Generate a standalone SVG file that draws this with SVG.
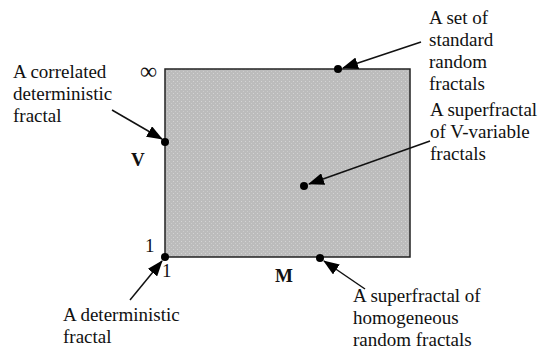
<svg xmlns="http://www.w3.org/2000/svg" width="555" height="352" viewBox="0 0 555 352">
<style>
text{font-family:'Liberation Serif','DejaVu Serif',serif;font-size:19px;fill:#111}
.b{font-weight:bold}
.inf{font-size:24px}
.c{stroke:#111;stroke-width:1.5;fill:none;marker-end:url(#ah)}
.d{fill:#000}
</style>
<defs>
<pattern id="dots" width="4" height="4" patternUnits="userSpaceOnUse">
<rect width="4" height="4" fill="#bcbcbc"/>
<rect x="1" y="1" width="1" height="1" fill="#d4d4d4"/>
<rect x="3" y="3" width="1" height="1" fill="#cccccc"/>
</pattern>
<marker id="ah" markerWidth="16" markerHeight="12" refX="15" refY="6" orient="auto" markerUnits="userSpaceOnUse">
<path d="M0,0 L16,6 L0,12 z" fill="#000"/>
</marker>
</defs>
<g id="space">
<rect x="165" y="69" width="245" height="188" fill="url(#dots)" stroke="#222" stroke-width="1.5"/>
</g>
<g id="axes" font-family="Liberation Serif, serif">
<text class="inf" x="140" y="79">∞</text>
<text class="b" x="131" y="166">V</text>
<text x="145" y="252">1</text>
<text x="162" y="277">1</text>
<text class="b" x="275" y="282">M</text>
</g>
<g id="connectors">
<line class="c" x1="112" y1="110" x2="162" y2="139"/>
<line class="c" x1="421" y1="42" x2="343" y2="68"/>
<line class="c" x1="430" y1="141" x2="309" y2="184"/>
<line class="c" x1="130" y1="300" x2="162" y2="261"/>
<line class="c" x1="365" y1="289" x2="324" y2="261"/>
</g>
<g id="n-correlated" font-family="Liberation Serif, serif">
<circle class="d" cx="165" cy="142" r="4"/>
<text x="13" y="78">A correlated</text>
<text x="13" y="100">deterministic</text>
<text x="13" y="122">fractal</text>
</g>
<g id="n-standard" font-family="Liberation Serif, serif">
<circle class="d" cx="338" cy="69" r="4"/>
<text x="429" y="24">A set of</text>
<text x="429" y="46">standard</text>
<text x="429" y="68">random</text>
<text x="429" y="90">fractals</text>
</g>
<g id="n-vvariable" font-family="Liberation Serif, serif">
<circle class="d" cx="304" cy="186" r="4"/>
<text x="430" y="116">A superfractal</text>
<text x="430" y="138">of V-variable</text>
<text x="430" y="160">fractals</text>
</g>
<g id="n-deterministic" font-family="Liberation Serif, serif">
<circle class="d" cx="165" cy="257" r="4"/>
<text x="63" y="321">A deterministic</text>
<text x="63" y="343">fractal</text>
</g>
<g id="n-homogeneous" font-family="Liberation Serif, serif">
<circle class="d" cx="320" cy="258" r="4"/>
<text x="353" y="302">A superfractal of</text>
<text x="353" y="324">homogeneous</text>
<text x="353" y="346">random fractals</text>
</g>
</svg>
